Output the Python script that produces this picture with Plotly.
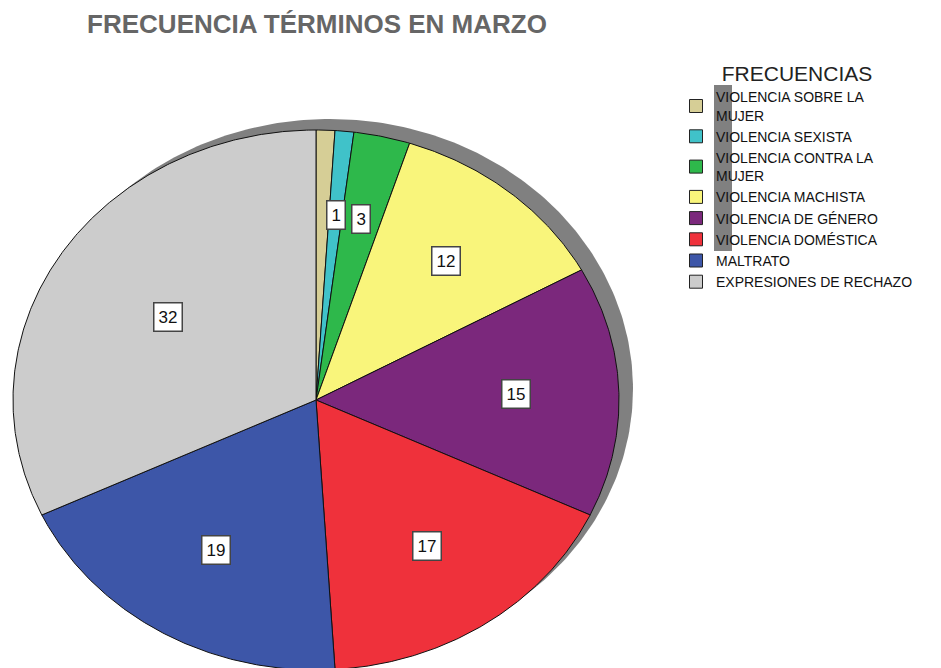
import numpy as np
import plotly.graph_objects as go

# Frequency of each term in March
categories = [
    "VIOLENCIA SOBRE LA MUJER",
    "VIOLENCIA SEXISTA",
    "VIOLENCIA CONTRA LA MUJER",
    "VIOLENCIA MACHISTA",
    "VIOLENCIA DE GÉNERO",
    "VIOLENCIA DOMÉSTICA",
    "MALTRATO",
    "EXPRESIONES DE RECHAZO",
]
legend_names = [
    "VIOLENCIA SOBRE LA<br>MUJER",
    "VIOLENCIA SEXISTA",
    "VIOLENCIA CONTRA LA<br>MUJER",
    "VIOLENCIA MACHISTA",
    "VIOLENCIA DE GÉNERO",
    "VIOLENCIA DOMÉSTICA",
    "MALTRATO",
    "EXPRESIONES DE RECHAZO",
]
counts = [1, 1, 3, 12, 15, 17, 19, 32]
show_value = [False, True, True, True, True, True, True, True]
colors = ["#D6CE96", "#40C2C9", "#2EB84B", "#F9F57B",
          "#7B287C", "#EF313B", "#3D56A8", "#CCCCCC"]

TITLE = "FRECUENCIA TÉRMINOS EN MARZO"
LEGEND_TITLE = "FRECUENCIAS"

# Page geometry (pixels) and the elliptical pie inside it
W, H = 941, 668
CX, CY = 316, 400          # pie centre, from the top-left corner
RX, RY = 303, 270          # horizontal / vertical radius
SHADOW_DX, SHADOW_DY = 14, 11
LABEL_SCALE = 1.03         # value boxes sit near each sector's centroid
FONT = "Liberation Sans, Arial, sans-serif"

x_range = [-CX / RX, (W - CX) / RX]
y_range = [-(H - CY) / RY, CY / RY]

fig = go.Figure()

# Grey drop shadow behind the pie
t = np.linspace(0, 2 * np.pi, 361)
fig.add_trace(go.Scatter(
    x=np.sin(t) + SHADOW_DX / RX, y=np.cos(t) + SHADOW_DY / RY,
    mode="lines", fill="toself", fillcolor="#808080",
    line=dict(width=0, color="#808080"),
    hoverinfo="skip", showlegend=False,
))

# Slices, clockwise from 12 o'clock
total = float(sum(counts))
ends = np.cumsum(counts) / total * 2 * np.pi
starts = np.concatenate([[0.0], ends[:-1]])
annotations = []
for name, lg, val, col, a0, a1, show in zip(categories, legend_names, counts,
                                            colors, starts, ends, show_value):
    arc = np.linspace(a0, a1, max(4, int(val * 8)))
    xs = np.concatenate([[0.0], np.sin(arc), [0.0]])
    ys = np.concatenate([[0.0], np.cos(arc), [0.0]])
    fig.add_trace(go.Scatter(
        x=xs, y=ys, mode="lines", fill="toself", fillcolor=col,
        line=dict(color="#111111", width=1),
        name=name, legendgroup=name, showlegend=False,
        hovertemplate=f"{name}: {val}<extra></extra>",
    ))
    # legend entry with a square swatch
    fig.add_trace(go.Scatter(
        x=[None], y=[None], mode="markers", name=lg, legendgroup=name,
        marker=dict(symbol="square", size=13, color=col,
                    line=dict(color="#222222", width=1)),
    ))
    if show:
        mid = (a0 + a1) / 2
        half = (a1 - a0) / 2
        r = LABEL_SCALE * 2 * np.sin(half) / (3 * half)
        annotations.append(dict(
            x=r * np.sin(mid), y=r * np.cos(mid),
            xref="x", yref="y", text=str(val), showarrow=False,
            font=dict(family=FONT, size=17, color="#111111"),
            bgcolor="#FFFFFF", bordercolor="#444444",
            borderwidth=1.5, borderpad=4,
        ))

# Grey bar behind the start of the legend labels
shapes = [dict(
    type="rect", xref="paper", yref="paper",
    x0=714 / W, x1=732 / W, y0=1 - 251 / H, y1=1 - 85 / H,
    fillcolor="#808080", line=dict(width=0), layer="above",
)]

fig.update_layout(
    width=W, height=H,
    margin=dict(l=0, r=0, t=0, b=0),
    paper_bgcolor="#FFFFFF", plot_bgcolor="#FFFFFF",
    font=dict(family=FONT, color="#111111"),
    title=dict(
        text=TITLE, x=317 / W, xanchor="center", xref="paper",
        y=1 - 24 / H, yanchor="middle", yref="container",
        font=dict(family=FONT, size=26, color="#666666", weight="bold"),
    ),
    xaxis=dict(range=x_range, visible=False, fixedrange=True),
    yaxis=dict(range=y_range, visible=False, fixedrange=True),
    showlegend=True,
    legend=dict(
        x=676 / W, xanchor="left", y=1 - 54 / H, yanchor="top",
        bgcolor="rgba(0,0,0,0)", tracegroupgap=0,
        font=dict(family=FONT, size=14, color="#111111"),
        title=dict(text=LEGEND_TITLE, side="top center",
                   font=dict(family=FONT, size=21, color="#222222")),
        itemclick=False, itemdoubleclick=False,
    ),
    annotations=annotations,
    shapes=shapes,
)

fig.write_html("out.html")
